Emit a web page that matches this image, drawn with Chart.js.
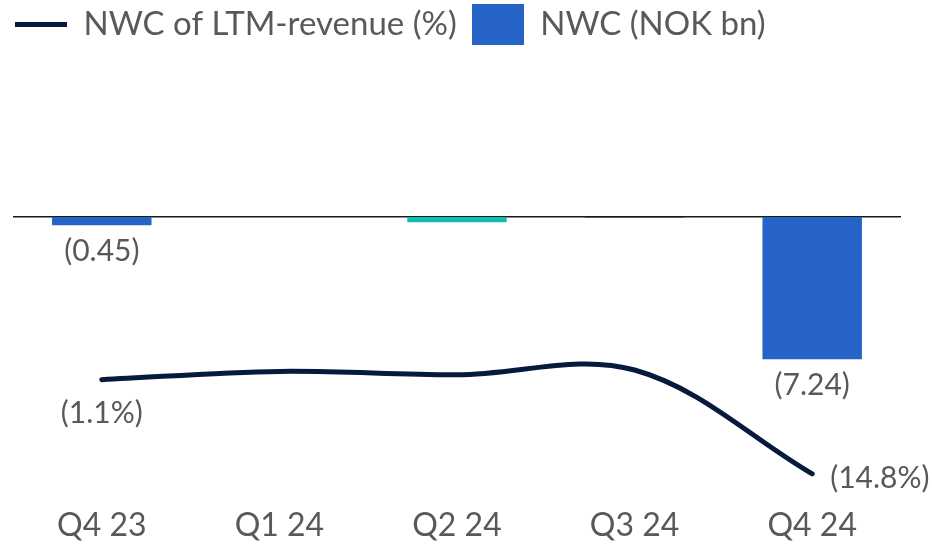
<!DOCTYPE html>
<html>
<head>
<meta charset="utf-8">
<script src="https://cdn.jsdelivr.net/npm/chart.js@4/dist/chart.umd.min.js"></script>
<style>
  html, body { margin: 0; padding: 0; background: #ffffff; }
  #wrap { width: 932px; height: 544px; position: relative; }
</style>
</head>
<body>
<div id="wrap"><canvas id="c" width="932" height="544"></canvas></div>
<script>
// ---- data ----
const categories = ['Q4 23', 'Q1 24', 'Q2 24', 'Q3 24', 'Q4 24'];
const nwcValues = [-0.45, null, -0.3, -0.06, -7.24];           // NWC (NOK bn)
const nwcPctValues = [-1.1, 0.1, -0.4, 0.3, -14.8];             // NWC of LTM-revenue (%)
const barLabelIdx = [0, 4];
const lineLabelIdx = [0, 4];
const seriesNames = ['NWC of LTM-revenue (%)', 'NWC (NOK bn)'];

// ---- style ----
const FONT = 'Lato, "Noto Sans", sans-serif';
const TEXT = '#595959';
const BLUE = '#2563C6';
const barColors = [BLUE, BLUE, '#10BFB1', '#0E3A3B', BLUE];
const LINE = '#061A3D';

// legend swatch for bar series
const swatch = document.createElement('canvas');
swatch.width = 52; swatch.height = 41;
(function(){ const g = swatch.getContext('2d'); g.fillStyle = BLUE; g.fillRect(0, 0, 52, 41); })();

function fmt(v, suffix) {
  const s = Math.abs(v).toFixed(suffix ? 1 : 2) + (suffix || '');
  return v < 0 ? '(' + s + ')' : s;
}

const labelPlugin = {
  id: 'valueLabels',
  afterDatasetsDraw(chart) {
    const ctx = chart.ctx;
    ctx.save();
    ctx.font = '30px ' + FONT;
    ctx.fillStyle = TEXT;
    ctx.textBaseline = 'middle';
    const barMeta = chart.getDatasetMeta(1);
    barLabelIdx.forEach(i => {
      const el = barMeta.data[i];
      ctx.textAlign = 'center';
      ctx.fillText(fmt(nwcValues[i]), el.x, el.y + 26);
    });
    const lineMeta = chart.getDatasetMeta(0);
    lineLabelIdx.forEach((i, k) => {
      const el = lineMeta.data[i];
      if (k === 0) {
        ctx.textAlign = 'center';
        ctx.fillText(fmt(nwcPctValues[i], '%'), el.x, el.y + 34);
      } else {
        ctx.textAlign = 'left';
        ctx.fillText(fmt(nwcPctValues[i], '%'), el.x + 18, el.y + 4);
      }
    });
    ctx.restore();
  }
};

new Chart(document.getElementById('c'), {
  data: {
    labels: categories,
    datasets: [
      {
        type: 'line',
        label: seriesNames[0],
        data: nwcPctValues,
        yAxisID: 'yPct',
        borderColor: LINE,
        backgroundColor: LINE,
        borderWidth: 5,
        borderCapStyle: 'round',
        pointRadius: 0,
        pointHoverRadius: 0,
        tension: 0.35,
        fill: false
      },
      {
        type: 'bar',
        label: seriesNames[1],
        data: nwcValues,
        yAxisID: 'y',
        backgroundColor: barColors,
        borderWidth: 0,
        barPercentage: 1,
        categoryPercentage: 0.56
      }
    ]
  },
  options: {
    responsive: false,
    animation: false,
    devicePixelRatio: 1,
    layout: { padding: { left: 0, right: 31, top: -7, bottom: -13 } },
    plugins: {
      tooltip: { enabled: false },
      legend: {
        display: true,
        position: 'top',
        align: 'start',
        labels: {
          usePointStyle: true,
          pointStyleWidth: 52,
          padding: 15,
          color: TEXT,
          font: { family: FONT, size: 33 },
          generateLabels(chart) {
            const items = Chart.defaults.plugins.legend.labels.generateLabels(chart);
            items.forEach(it => {
              if (it.datasetIndex === 0) {
                it.pointStyle = 'line';
                it.strokeStyle = LINE;
                it.lineWidth = 5;
                it.lineCap = 'butt';
              } else {
                it.pointStyle = swatch;
              }
            });
            return items;
          }
        }
      }
    },
    scales: {
      x: {
        offset: true,
        grid: { display: false, drawTicks: false },
        border: { display: false },
        ticks: { color: TEXT, font: { family: FONT, size: 32 }, padding: 12, maxRotation: 0 }
      },
      y: {
        position: 'left',
        min: -14.1,
        max: 8.38,
        afterBuildTicks(s) { s.ticks = [{ value: 0 }]; },
        afterFit(s) { s.width = 13; },
        ticks: { display: false },
        border: { display: false },
        grid: { color: '#1a1a1a', lineWidth: 1.5, drawTicks: false }
      },
      yPct: {
        position: 'right',
        display: false,
        min: -17.82,
        max: 46.7
      }
    }
  },
  plugins: [labelPlugin]
});
</script>
</body>
</html>
